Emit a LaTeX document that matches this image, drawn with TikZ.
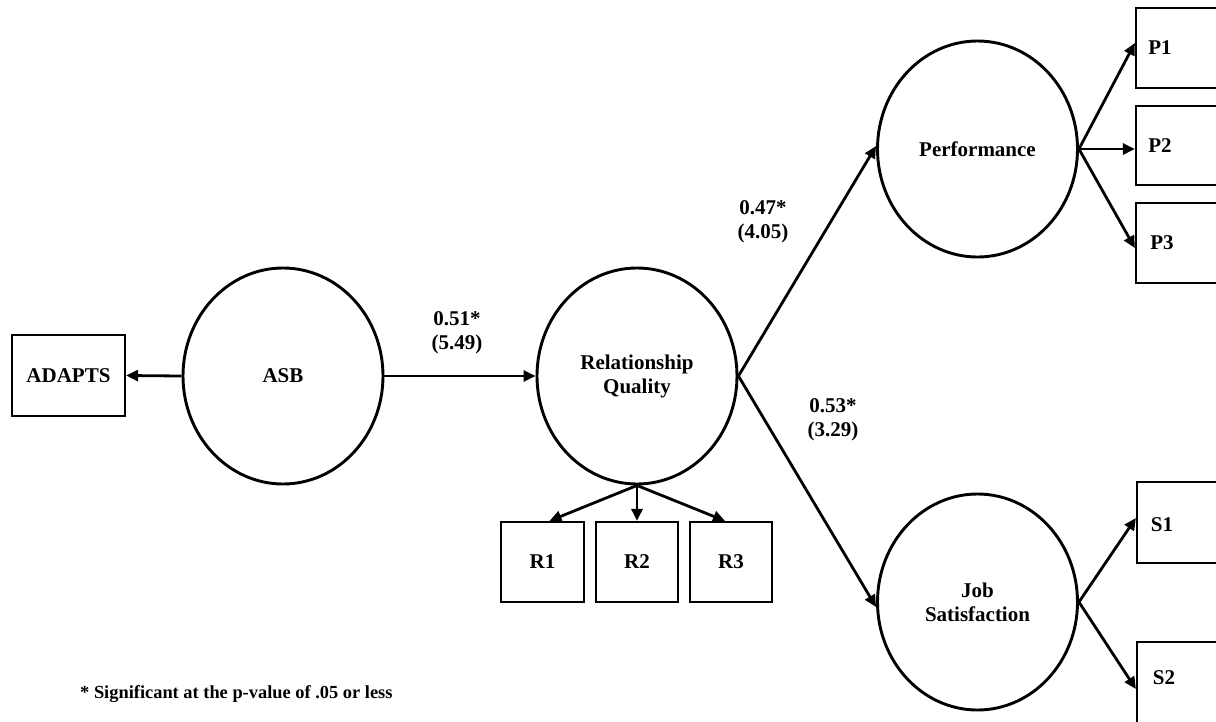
\documentclass[tikz,border=0pt]{standalone}
\usepackage{fontspec}
\setmainfont{Liberation Serif}
\usetikzlibrary{arrows.meta,shapes.geometric}
\begin{document}
\begin{tikzpicture}[x=1pt,y=-1pt,
  every node/.style={font=\bfseries\fontsize{21}{24}\selectfont},
  latent/.style={draw,ellipse,line width=2.9pt,minimum width=200pt,minimum height=216pt,inner sep=0pt,align=center},
  obs/.style={draw,rectangle,line width=2.2pt,inner sep=0pt},
  path/.style={line width=2.8pt,-{Triangle[length=12pt,width=11pt]}},
  coef/.style={align=center,inner sep=0pt}]
\useasboundingbox (0,0) rectangle (1216,721);
% latent variables
\node[latent] (ASB) at (283,376) {ASB};
\node[latent] (RQ) at (637,376) {Relationship\\Quality};
\node[latent] (PF) at (977.5,149) {Performance};
\node[latent] (JS) at (977.5,602) {Job\\Satisfaction};
% observed
\node[obs,minimum width=113pt,minimum height=81pt] (AD) at (68.5,375.5) {ADAPTS};
\node[obs,minimum width=83pt,minimum height=80pt] (R1) at (542.5,562) {R1};
\node[obs,minimum width=82pt,minimum height=80pt] (R2) at (637,562) {R2};
\node[obs,minimum width=82pt,minimum height=80pt] (R3) at (731,562) {R3};
\node[obs,minimum width=86pt,minimum height=80pt] (P1) at (1179,48) {};
\node[obs,minimum width=86pt,minimum height=79pt] (P2) at (1179,145.5) {};
\node[obs,minimum width=86pt,minimum height=80pt] (P3) at (1179,243) {};
\node[obs,minimum width=86pt,minimum height=81pt] (S1) at (1180,522.5) {};
\node[obs,minimum width=86pt,minimum height=82pt] (S2) at (1180,683) {};
\node (P1t) at (1160,48) {P1};
\node (P2t) at (1160,145.5) {P2};
\node (P3t) at (1162,243) {P3};
\node (S1t) at (1162,525) {S1};
\node (S2t) at (1164,678) {S2};
% paths
\draw[path] (ASB.west) -- (AD.east);
\draw[path] (ASB.east) -- (RQ.west);
\draw[path] (RQ.south) -- ([xshift=7pt]R1.north);
\draw[path] (RQ.south) -- (R2.north);
\draw[path] (RQ.south) -- ([xshift=-6pt]R3.north);
\draw[path] (RQ.east) -- ([yshift=3pt]PF.west);
\draw[path] (RQ.east) -- ([yshift=-5pt]JS.west);
\draw[path] (PF.east) -- ([yshift=5pt]P1.west);
\draw[path] (PF.east) -- (PF.east -| P2.west);
\draw[path] (PF.east) -- ([yshift=-5pt]P3.west);
\draw[path] (JS.east) -- ([yshift=4.5pt]S1.west);
\draw[path] (JS.east) -- ([yshift=-6pt]S2.west);
% coefficients
\node[coef] (c1) at (457,333) {0.51*\\(5.49)};
\node[coef] (c2) at (763,222) {0.47*\\(4.05)};
\node[coef] (c3) at (833,420) {0.53*\\(3.29)};
\node[anchor=west,inner sep=0pt,font=\bfseries\fontsize{18.4}{21}\selectfont] (note) at (80,694) {* Significant at the p-value of .05 or less};
\end{tikzpicture}
\end{document}
